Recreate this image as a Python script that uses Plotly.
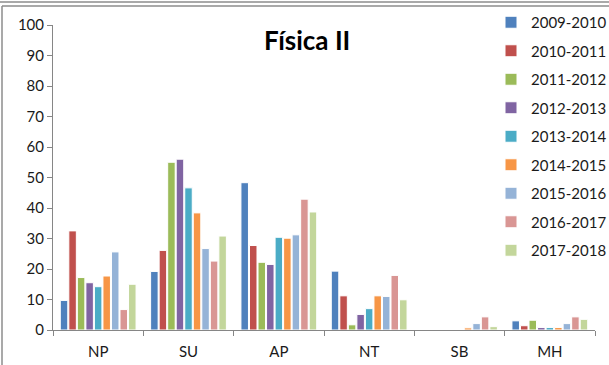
# IMPORTS --------------------------------------------------------------------

import plotly.graph_objects as go


# DATA -----------------------------------------------------------------------
categories = ['NP', 'SU', 'AP', 'NT', 'SB', 'MH']
years = ['2009-2010', '2010-2011', '2011-2012', '2012-2013', '2013-2014',
         '2014-2015', '2015-2016', '2016-2017', '2017-2018']

v_2009 = [9.7, 19.2, 48.3, 19.3, 0, 3.0]
v_2010 = [32.5, 26.1, 27.7, 11.2, 0, 1.4]
v_2011 = [17.2, 55.0, 22.2, 1.7, 0, 3.2]
v_2012 = [15.5, 56.0, 21.5, 5.1, 0, 0.8]
v_2013 = [14.2, 46.6, 30.4, 7.0, 0, 0.8]
v_2014 = [17.7, 38.4, 30.1, 11.2, 0.7, 0.8]
v_2015 = [25.6, 26.7, 31.2, 11.0, 2.1, 2.1]
v_2016 = [6.7, 22.6, 42.9, 17.9, 4.3, 4.3]
v_2017 = [15.0, 30.8, 38.7, 9.9, 1.1, 3.5]

series = [v_2009, v_2010, v_2011, v_2012, v_2013, v_2014, v_2015, v_2016, v_2017]
colors = ['#4F81BD', '#C0504D', '#9BBB59', '#8064A2', '#4BACC6',
          '#F79646', '#95B3D7', '#D99694', '#C3D69B']


# PLOT -----------------------------------------------------------------------
W, H = 609, 365
ML, MR, MT, MB = 53, 14, 25, 35
pw, ph = W - ML - MR, H - MT - MB


def px_x(x):
    return (x - ML) / pw


def px_y(y):
    return (H - MB - y) / ph


fig = go.Figure()
for name, vals, col in zip(years, series, colors):
    fig.add_trace(go.Bar(x=categories, y=vals, name=name, legendgroup=name,
                         marker=dict(color=col, line=dict(color='white', width=1))))

border = '#8c8c8c'
fig.update_layout(
    width=W, height=H,
    margin=dict(l=ML, r=MR, t=MT, b=MB, autoexpand=False),
    paper_bgcolor='white', plot_bgcolor='white',
    font=dict(family='Lato', size=15, color='#1a1a1a'),
    barmode='group', bargap=0.15, bargroupgap=0.12,
    showlegend=True,
    legend=dict(x=px_x(491), xanchor='left', y=px_y(6), yanchor='top',
                tracegroupgap=6, bgcolor='rgba(0,0,0,0)', maxheight=1,
                font=dict(family='Lato', size=15)),
    annotations=[dict(text='<b>Física II</b>', x=px_x(307), y=px_y(40),
                      xref='paper', yref='paper', showarrow=False,
                      xanchor='center', yanchor='middle',
                      font=dict(family='Lato', size=26, color='black'))],
    shapes=[
        dict(type='line', xref='paper', yref='paper', x0=px_x(0), x1=px_x(W),
             y0=px_y(2), y1=px_y(2), line=dict(color=border, width=1.5)),
        dict(type='line', xref='paper', yref='paper', x0=px_x(2), x1=px_x(W),
             y0=px_y(6), y1=px_y(6), line=dict(color=border, width=1.5)),
        dict(type='line', xref='paper', yref='paper', x0=px_x(2), x1=px_x(2),
             y0=px_y(6), y1=px_y(H), line=dict(color=border, width=1.5)),
    ],
)
fig.update_yaxes(range=[0, 100], dtick=10, showgrid=False, zeroline=False,
                 showline=True, linecolor='#868686', ticks='outside', ticklen=5,
                 tickcolor='#868686', tickfont=dict(size=15))
fig.update_xaxes(showgrid=False, showline=True, linecolor='#868686',
                 ticks='outside', tickson='boundaries', ticklen=5,
                 tickcolor='#868686', tickfont=dict(size=15), ticklabelstandoff=8)

# page body has a default margin; drop it so the figure sits at the window corner
fig.write_html("out.html", config={'displayModeBar': False},
               post_script="document.body.style.margin='0';")
